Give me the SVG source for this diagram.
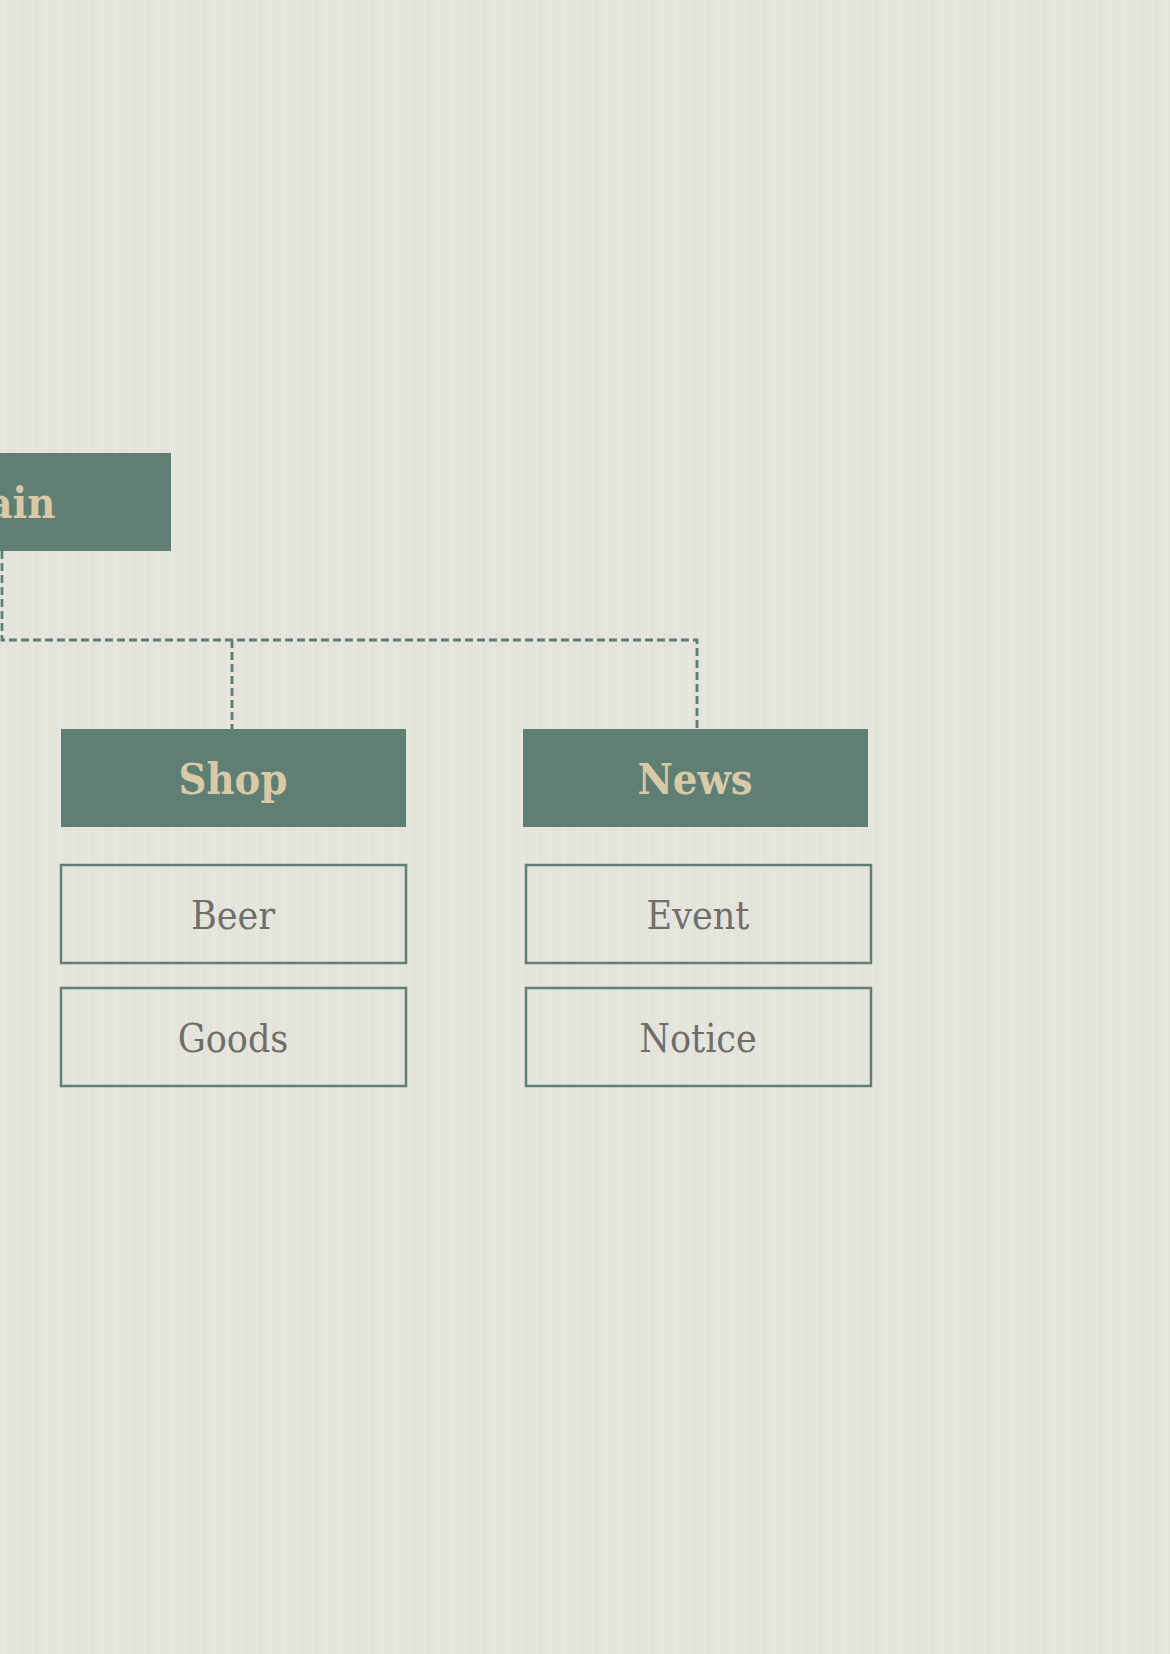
<svg xmlns="http://www.w3.org/2000/svg" width="1170" height="1654" viewBox="0 0 1170 1654">
<defs>
<style>
.bg{fill:#e5e4dc}
.head rect{fill:#5f7e74}
.head text{fill:#d9caa7;font-family:"DejaVu Serif Condensed","DejaVu Serif","Liberation Serif",serif;font-stretch:condensed;font-weight:bold;font-size:43px;text-anchor:middle}
.item rect{fill:none;stroke:#5f7e74;stroke-width:2.5}
.item text{fill:#6f6f6a;font-family:"DejaVu Serif Condensed","DejaVu Serif","Liberation Serif",serif;font-stretch:condensed;font-size:39px;text-anchor:middle}
.conn{fill:none;stroke:#5f7e74;stroke-width:2.8;stroke-dasharray:8 4}
</style>
<pattern id="stripes" width="14" height="1654" patternUnits="userSpaceOnUse">
<rect x="3" y="0" width="2" height="1654" fill="#ffffff" opacity="0.12"/>
<rect x="9" y="0" width="1" height="1654" fill="#d8d7cf" opacity="0.25"/>
</pattern>
</defs>
<rect class="bg" x="0" y="0" width="1170" height="1654"/>
<rect x="0" y="0" width="1170" height="1654" fill="url(#stripes)"/>
<g id="connectors">
<path class="conn" d="M2,551 V640 H697 V729"/>
<path class="conn" d="M232,640 V729"/>
</g>
<g id="main" class="head">
<rect x="-174" y="453" width="345" height="98"/>
<text x="0" y="518">Main</text>
</g>
<g id="shop" class="head">
<rect x="61" y="729" width="345" height="98"/>
<text x="233" y="794">Shop</text>
</g>
<g id="news" class="head">
<rect x="523" y="729" width="345" height="98"/>
<text x="695" y="794">News</text>
</g>
<g id="beer" class="item">
<rect x="61" y="865" width="345" height="98"/>
<text x="233" y="929">Beer</text>
</g>
<g id="goods" class="item">
<rect x="61" y="988" width="345" height="98"/>
<text x="233" y="1052">Goods</text>
</g>
<g id="event" class="item">
<rect x="526" y="865" width="345" height="98"/>
<text x="698" y="929">Event</text>
</g>
<g id="notice" class="item">
<rect x="526" y="988" width="345" height="98"/>
<text x="698" y="1052">Notice</text>
</g>
</svg>
